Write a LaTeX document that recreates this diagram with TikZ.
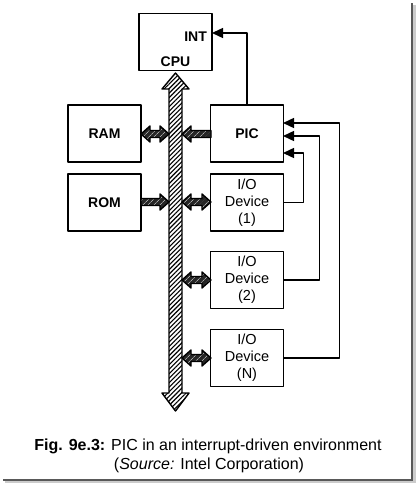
\documentclass[tikz,border=0pt]{standalone}
\usepackage{fontspec}
\setmainfont{Liberation Sans}
\usetikzlibrary{arrows.meta,patterns.meta}

\tikzset{
  box/.style={draw,line width=1.6pt,minimum width=73pt,minimum height=57pt,inner sep=0pt,align=center,font=\fontsize{14.5}{17}\selectfont},
  lbl/.style={inner sep=0pt,font=\fontsize{14}{17}\selectfont\bfseries},
  captxt/.style={inner sep=0pt,font=\fontsize{16}{20}\selectfont},
  wire/.style={line width=1.4pt},
  busbar/.style={draw,line width=1.4pt,pattern={Lines[angle=45,distance=3.2pt,line width=1.1pt]}},
  portarrow/.style={draw,line width=1.4pt,preaction={fill=black!85},pattern={Lines[angle=45,distance=4pt,line width=0.7pt]},pattern color=black!35},
}
% fat arrows to and from the bus
\newcommand{\twoway}[3]{%
  \path[portarrow] (#1,#3) -- (#1+9,#3-8) -- (#1+9,#3-3.5) -- (#2-9,#3-3.5) -- (#2-9,#3-8)
    -- (#2,#3) -- (#2-9,#3+8) -- (#2-9,#3+3.5) -- (#1+9,#3+3.5) -- (#1+9,#3+8) -- cycle;}
\newcommand{\oneway}[4]{%
  \path[portarrow] (#1,#4-3.5) -- (#2,#4-3.5) -- (#2,#4-8) -- (#3,#4) -- (#2,#4+8)
    -- (#2,#4+3.5) -- (#1,#4+3.5) -- cycle;}

\begin{document}
\begin{tikzpicture}[line cap=round,line join=round,>={Triangle[length=11pt,width=10pt]},x=1pt,y=-1pt]
\useasboundingbox (0,0) rectangle (416,484);
% frame shadow
\fill[black!20] (413,5) rectangle (415.5,483);
\fill[black!20] (5,481) rectangle (415.5,483);
\fill[black!65] (411,3) rectangle (413,481);
\fill[black!65] (3,479) rectangle (413,481);
% boxes
\node[box] (cpu) at (175.5,42) {};
\node[lbl,anchor=base east] (int) at (207,42) {INT};
\node[lbl,anchor=base] (cpulbl) at (175.5,67) {CPU};
\node[box,lbl] (ram) at (104.5,133.5) {RAM};
\node[box,lbl] (rom) at (104.5,202.5) {ROM};
\node[box,lbl] (pic) at (247,133.5) {PIC};
\node[box] (io1) at (247,202.5) {I/O\\Device\\(1)};
\node[box] (io2) at (247,280) {I/O\\Device\\(2)};
\node[box] (ion) at (247,358) {I/O\\Device\\(N)};
% system bus
\path[busbar] (169,89) -- (162,89) -- (175.5,73) -- (189,89) -- (182,89) -- (182,393)
  -- (189,393) -- (175.5,411) -- (162,393) -- (169,393) -- cycle;
\twoway{141}{169}{134}
\oneway{141}{160}{169}{202}
\oneway{211}{191}{182}{134}
\twoway{182}{211}{202}
\twoway{182}{211}{280}
\twoway{182}{211}{358}
% interrupt lines
\coordinate (intin) at (212,33);
\coordinate (irq0) at (283,123);
\coordinate (irq1) at (283,136);
\coordinate (irq2) at (283,153);
\draw[wire,->] (pic.north) |- (intin);
\draw[wire,->] (io1.east) -- ++(19,0) |- (irq2);
\draw[wire,->] (io2.east) -- ++(35,0) |- (irq1);
\draw[wire,->] (ion.east) -- ++(55,0) |- (irq0);
% caption
\node[captxt,anchor=base] (cap1) at (208,450) {\textbf{Fig. 9e.3:} PIC in an interrupt-driven environment};
\node[captxt,anchor=base] (cap2) at (209,469) {(\textit{Source:} Intel Corporation)};
\end{tikzpicture}
\end{document}
